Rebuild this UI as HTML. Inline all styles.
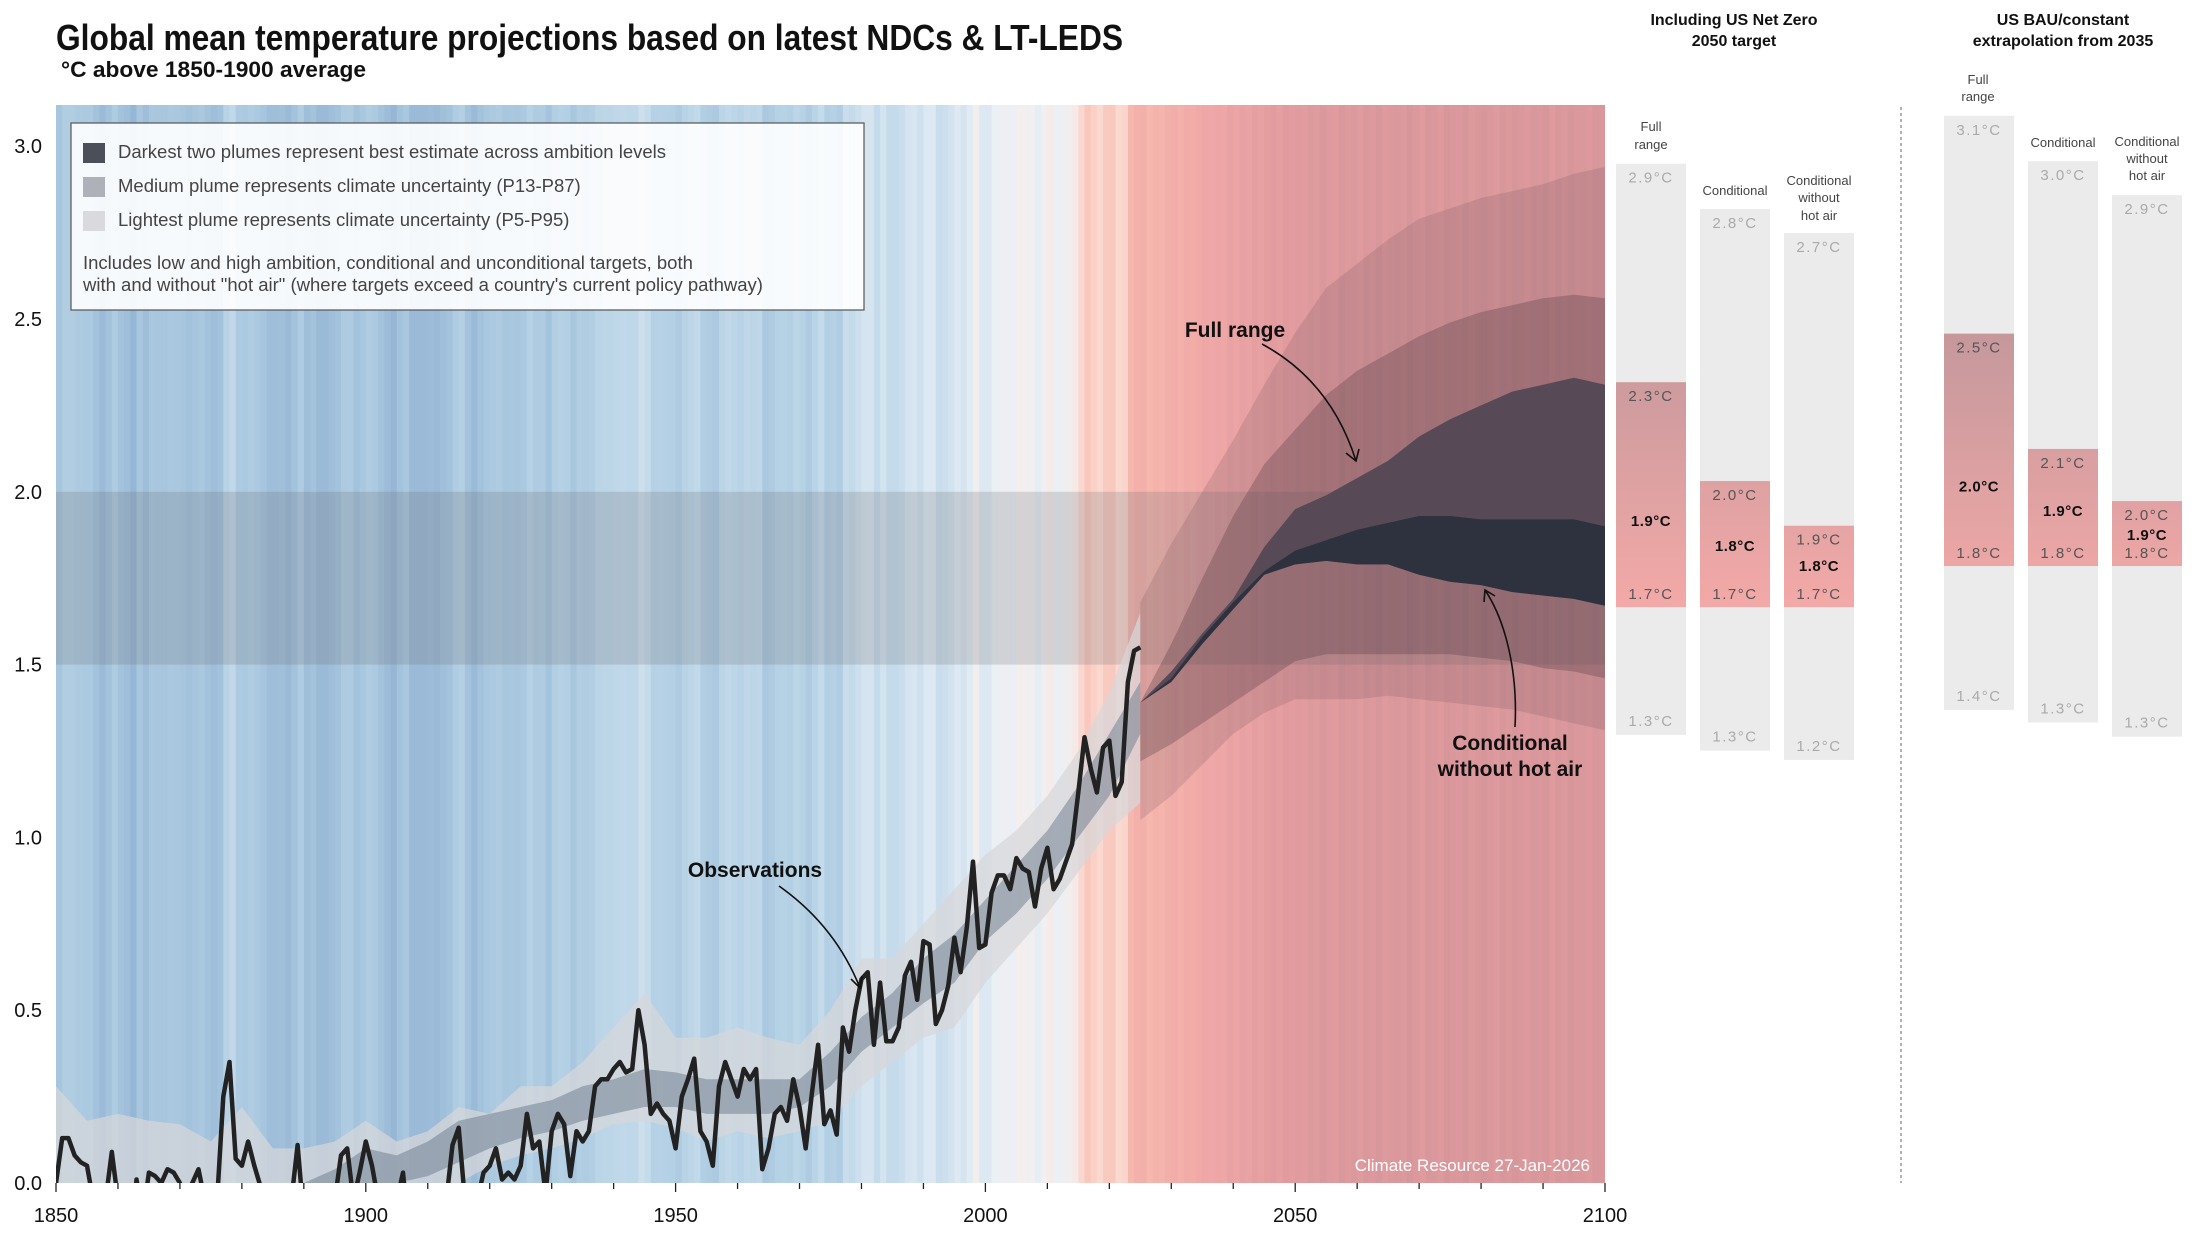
<!DOCTYPE html>
<html><head><meta charset="utf-8">
<style>
html,body{margin:0;padding:0;background:#fff;}
svg{display:block;}
text{font-family:"Liberation Sans",sans-serif;}
.cond{font-family:"Liberation Sans Narrow","Liberation Sans",sans-serif;}
</style></head>
<body>
<svg id="chart" width="2196" height="1233" viewBox="0 0 2196 1233" xmlns="http://www.w3.org/2000/svg">
<defs>
<clipPath id="plotClip"><rect x="56" y="105" width="1549" height="1078"/></clipPath>
</defs>
<rect x="0" y="0" width="2196" height="1233" fill="#fff"/>
<text class="cond" x="56" y="50" font-size="36" font-weight="bold" fill="#111" textLength="1067" lengthAdjust="spacingAndGlyphs">Global mean temperature projections based on latest NDCs &amp; LT-LEDS</text>
<text class="cond" x="61" y="77" font-size="22" font-weight="bold" fill="#111" textLength="305" lengthAdjust="spacingAndGlyphs">°C above 1850-1900 average</text>
<g id="plot" clip-path="url(#plotClip)">
<g id="stripes"></g>
<rect id="band" x="56" y="0" width="1549" height="0" fill="rgba(110,110,115,0.22)"/>
<g id="hist"></g>
<g id="proj"></g>
<path id="obsLine" fill="none" stroke="#222" stroke-width="4.5" stroke-linejoin="round"/>
</g>
<g id="axes"></g>
<g>
<rect x="71" y="123" width="793" height="187" fill="rgba(255,255,255,0.9)" stroke="#555" stroke-width="1.2"/>
<rect x="83" y="143" width="22" height="20" fill="#4b4f5a"/>
<text x="118" y="158" font-size="18.5" fill="#444">Darkest two plumes represent best estimate across ambition levels</text>
<rect x="83" y="177" width="22" height="20" fill="#aeb1b8"/>
<text x="118" y="192" font-size="18.5" fill="#444">Medium plume represents climate uncertainty (P13-P87)</text>
<rect x="83" y="211" width="22" height="20" fill="#d8dadd"/>
<text x="118" y="226" font-size="18.5" fill="#444">Lightest plume represents climate uncertainty (P5-P95)</text>
<text x="83" y="269" font-size="18.5" fill="#444">Includes low and high ambition, conditional and unconditional targets, both</text>
<text x="83" y="291" font-size="18.5" fill="#444">with and without "hot air" (where targets exceed a country's current policy pathway)</text>
</g>
<g>
<text class="cond" x="755" y="877" font-size="21" font-weight="bold" fill="#111" text-anchor="middle">Observations</text>
<path d="M779,886 C820,915 845,950 860,988 M851,979 L860,988 L862,976" fill="none" stroke="#111" stroke-width="1.6"/>
<text class="cond" x="1235" y="337" font-size="21" font-weight="bold" fill="#111" text-anchor="middle">Full range</text>
<path d="M1262,344 C1310,370 1340,410 1356,461 M1346,453 L1356,461 L1359,449" fill="none" stroke="#111" stroke-width="1.6"/>
<text class="cond" x="1510" y="750" font-size="21" font-weight="bold" fill="#111" text-anchor="middle">Conditional</text>
<text class="cond" x="1510" y="776" font-size="21" font-weight="bold" fill="#111" text-anchor="middle">without hot air</text>
<path d="M1515,727 C1518,670 1505,620 1485,590 M1484,602 L1485,590 L1495,596" fill="none" stroke="#111" stroke-width="1.6"/>
<text x="1590" y="1171" font-size="17" fill="#fff" text-anchor="end">Climate Resource 27-Jan-2026</text>
</g>
<g id="panels">
<text x="1734" y="25" font-size="16" font-weight="bold" fill="#111" text-anchor="middle">Including US Net Zero</text>
<text x="1734" y="46" font-size="16" font-weight="bold" fill="#111" text-anchor="middle">2050 target</text>
<text x="2063" y="25" font-size="16" font-weight="bold" fill="#111" text-anchor="middle">US BAU/constant</text>
<text x="2063" y="46" font-size="16" font-weight="bold" fill="#111" text-anchor="middle">extrapolation from 2035</text>
<line x1="1901" y1="107" x2="1901" y2="1183" stroke="#888" stroke-width="1.3" stroke-dasharray="3,3"/>
<g font-size="13" fill="#444" text-anchor="middle">
<text x="1651" y="131">Full</text>
<text x="1651" y="149">range</text>
<text x="1735" y="195">Conditional</text>
<text x="1819" y="185">Conditional</text>
<text x="1819" y="202">without</text>
<text x="1819" y="220">hot air</text>
<text x="1978" y="84">Full</text>
<text x="1978" y="101">range</text>
<text x="2063" y="147">Conditional</text>
<text x="2147" y="146">Conditional</text>
<text x="2147" y="163">without</text>
<text x="2147" y="180">hot air</text>
</g>
<g id="bars"></g>
</g>
</svg>
<script>
// ---------- data ----------
const obsStartYear = 1850;
const obsValues = [
0.0,0.13,0.13,0.08,0.06,0.05,-0.05,-0.15,-0.05,0.09,
-0.05,-0.1,-0.2,0.01,-0.1,0.03,0.02,0.0,0.04,0.03,
0.0,-0.05,0.0,0.04,-0.05,-0.1,-0.05,0.25,0.35,0.07,
0.05,0.12,0.05,-0.01,-0.1,-0.1,-0.08,-0.15,-0.05,0.11,
-0.1,-0.05,-0.15,-0.15,-0.1,-0.05,0.08,0.1,-0.05,0.03,
0.12,0.05,-0.05,-0.12,-0.2,-0.05,0.03,-0.15,-0.15,-0.15,
-0.12,-0.15,-0.08,-0.05,0.11,0.16,-0.05,-0.15,-0.05,0.03,
0.05,0.1,0.01,0.03,0.01,0.05,0.2,0.1,0.12,-0.03,
0.15,0.2,0.17,0.02,0.15,0.12,0.15,0.28,0.3,0.3,
0.33,0.35,0.32,0.33,0.5,0.4,0.2,0.23,0.2,0.18,
0.1,0.25,0.3,0.36,0.15,0.12,0.05,0.28,0.35,0.3,
0.25,0.33,0.3,0.33,0.04,0.1,0.2,0.22,0.18,0.3,
0.22,0.1,0.26,0.4,0.17,0.21,0.14,0.45,0.38,0.5,
0.59,0.61,0.4,0.58,0.41,0.41,0.45,0.6,0.64,0.53,
0.7,0.69,0.46,0.5,0.57,0.71,0.61,0.74,0.93,0.68,
0.69,0.84,0.89,0.89,0.85,0.94,0.91,0.9,0.8,0.91,
0.97,0.85,0.88,0.93,0.98,1.13,1.29,1.2,1.13,1.26,
1.28,1.12,1.16,1.45,1.54,1.55];

const futureStripeValues = [
1.45,1.5,1.48,1.55,1.6,1.52,1.62,1.58,1.65,1.7,
1.66,1.72,1.7,1.78,1.74,1.8,1.76,1.84,1.8,1.86,
1.9,1.85,1.92,1.88,1.95,1.9,1.98,1.93,2.02,1.96,
1.92,2.05,1.97,2.0,1.94,2.03,1.99,2.08,1.96,2.01,
2.04,1.98,2.1,2.0,1.95,2.06,2.02,1.97,2.09,2.03,
2.0,2.12,1.98,2.05,2.15,2.02,1.96,2.07,2.01,2.1,
2.04,1.99,2.08,2.03,2.13,1.97,2.06,2.0,2.1,2.02,
2.05,1.99,2.08,2.03,2.0];

const histYears = [1850,1855,1860,1865,1870,1875,1880,1885,1890,1895,1900,1905,1910,1915,1920,1925,1930,1935,1940,1945,1950,1955,1960,1965,1970,1975,1980,1985,1990,1995,2000,2005,2010,2015,2020,2025];
const histLightHi = [0.28,0.18,0.2,0.18,0.17,0.12,0.22,0.1,0.1,0.12,0.18,0.12,0.15,0.22,0.2,0.28,0.28,0.35,0.45,0.55,0.42,0.42,0.45,0.42,0.4,0.5,0.65,0.65,0.75,0.85,0.95,1.02,1.12,1.25,1.42,1.65];
const histLightLo = [-0.1,-0.1,-0.1,-0.1,-0.1,-0.1,-0.1,-0.1,-0.1,-0.1,-0.1,-0.1,-0.1,0.0,0.05,0.08,0.1,0.13,0.17,0.18,0.16,0.12,0.15,0.13,0.15,0.18,0.28,0.35,0.42,0.45,0.58,0.68,0.78,0.9,1.02,1.1];
const histMedHi = [-0.2,-0.2,-0.2,-0.2,-0.2,-0.2,-0.2,-0.2,0.0,0.04,0.1,0.08,0.12,0.18,0.2,0.22,0.24,0.28,0.3,0.33,0.32,0.3,0.3,0.3,0.3,0.38,0.48,0.55,0.65,0.72,0.82,0.92,1.02,1.15,1.3,1.45];
const histMedLo = [-0.3,-0.3,-0.3,-0.3,-0.3,-0.3,-0.3,-0.3,-0.1,-0.05,0.0,0.0,0.02,0.06,0.1,0.13,0.15,0.18,0.2,0.22,0.22,0.2,0.2,0.2,0.22,0.28,0.38,0.45,0.52,0.58,0.7,0.78,0.88,1.0,1.12,1.3];

const projYears = [2025,2030,2035,2040,2045,2050,2055,2060,2065,2070,2075,2080,2085,2090,2095,2100];
const projOuterTop = [1.68,1.85,2.00,2.15,2.31,2.46,2.59,2.66,2.73,2.79,2.82,2.85,2.87,2.89,2.92,2.94];
const projMedTop = [1.39,1.56,1.75,1.93,2.08,2.18,2.28,2.35,2.40,2.45,2.49,2.52,2.54,2.56,2.57,2.56];
const projDarkTop = [1.39,1.48,1.59,1.69,1.84,1.95,1.99,2.04,2.09,2.16,2.21,2.25,2.29,2.31,2.33,2.31];
const projDarkestTop = [1.39,1.46,1.58,1.68,1.77,1.83,1.86,1.89,1.91,1.93,1.93,1.92,1.92,1.92,1.92,1.90];
const projDarkBottom = [1.39,1.45,1.56,1.66,1.76,1.79,1.80,1.79,1.79,1.76,1.74,1.73,1.71,1.70,1.69,1.67];
const projMedBottom = [1.22,1.27,1.33,1.39,1.45,1.51,1.53,1.53,1.53,1.53,1.53,1.52,1.51,1.49,1.48,1.46];
const projOuterBottom = [1.05,1.12,1.21,1.30,1.36,1.40,1.40,1.40,1.41,1.40,1.39,1.38,1.37,1.35,1.33,1.31];

const xTickYears = [1850,1900,1950,2000,2050,2100];
const yTickValues = [0.0,0.5,1.0,1.5,2.0,2.5,3.0];
const yTickLabels = ["0.0","0.5","1.0","1.5","2.0","2.5","3.0"];
const parisBand = [1.5,2.0];

const barNames = ["netzero-full","netzero-cond","netzero-cwha","bau-full","bau-cond","bau-cwha"];
const barTop = [2.90,2.773,2.706,3.034,2.907,2.812];
const barInnerTop = [2.288,2.011,1.886,2.424,2.101,1.955];
const barInnerBottom = [1.658,1.658,1.658,1.773,1.773,1.773];
const barBottom = [1.30,1.256,1.230,1.370,1.335,1.295];
const barMedian = [1.902,1.832,1.776,1.999,1.930,1.863];
const labelTop = ["2.9°C","2.8°C","2.7°C","3.1°C","3.0°C","2.9°C"];
const labelInnerTop = ["2.3°C","2.0°C","1.9°C","2.5°C","2.1°C","2.0°C"];
const labelMedian = ["1.9°C","1.8°C","1.8°C","2.0°C","1.9°C","1.9°C"];
const labelInnerBottom = ["1.7°C","1.7°C","1.7°C","1.8°C","1.8°C","1.8°C"];
const labelBottom = ["1.3°C","1.3°C","1.2°C","1.4°C","1.3°C","1.3°C"];

// ---------- layout ----------
const NS = "http://www.w3.org/2000/svg";
const X0 = 56, X1 = 1605, Y0 = 1183, PX_PER_DEG = 345.6;
const xScale = yr => X0 + (yr - 1850) * (X1 - X0) / 250;
const yScale = v => Y0 - v * PX_PER_DEG;
const panelY = v => 1199 - v * 357;
const barLeft = [1616,1700,1784,1944,2028,2112];
const BAR_W = 70;

function mk(tag, attrs, parent) {
  const el = document.createElementNS(NS, tag);
  for (const k in attrs) el.setAttribute(k, attrs[k]);
  parent.appendChild(el);
  return el;
}
function hex2rgb(h){return [parseInt(h.slice(1,3),16),parseInt(h.slice(3,5),16),parseInt(h.slice(5,7),16)];}
function lerpColor(a,b,t){const A=hex2rgb(a),B=hex2rgb(b);return "rgb("+A.map((c,i)=>Math.round(c+(B[i]-c)*t)).join(",")+")";}
const stripeStops = [[-0.2,"#96b6d5"],[0.0,"#a7c6de"],[0.3,"#bcd6e8"],[0.6,"#d5e4f0"],[0.85,"#eaf0f6"],[0.95,"#f5eeec"],[1.1,"#fadbd2"],[1.3,"#f9c6bc"],[1.5,"#f5b2ab"],[1.7,"#eea6a6"],[1.9,"#e29c9f"],[2.1,"#d6969a"]];
function stripeColor(v){
  if (v <= stripeStops[0][0]) return stripeStops[0][1];
  for (let i=1;i<stripeStops.length;i++){
    if (v <= stripeStops[i][0]) {
      const t=(v-stripeStops[i-1][0])/(stripeStops[i][0]-stripeStops[i-1][0]);
      return lerpColor(stripeStops[i-1][1],stripeStops[i][1],t);
    }
  }
  return stripeStops[stripeStops.length-1][1];
}

// stripes
const stripesG = document.getElementById("stripes");
const stripeVals = obsValues.concat(futureStripeValues);
stripeVals.forEach((v,i)=>{
  const yr = obsStartYear + i;
  const r = mk("rect",{x:xScale(yr).toFixed(2),y:105,width:(xScale(yr+1)-xScale(yr)+0.6).toFixed(2),height:1078,fill:stripeColor(v)},stripesG);
  
  
});

// paris band
const band = document.getElementById("band");
band.setAttribute("y", yScale(parisBand[1]));
band.setAttribute("height", yScale(parisBand[0]) - yScale(parisBand[1]));

function areaPath(xs, lo, hi){
  let d = "M" + xs.map((yr,i)=>xScale(yr).toFixed(1)+","+yScale(hi[i]).toFixed(1)).join(" L");
  for (let i=xs.length-1;i>=0;i--) d += " L"+xScale(xs[i]).toFixed(1)+","+yScale(lo[i]).toFixed(1);
  return d+" Z";
}
const histG = document.getElementById("hist");
const hl = mk("path",{d:areaPath(histYears,histLightLo,histLightHi),fill:"rgba(215,215,218,0.72)"},histG);


const hm = mk("path",{d:areaPath(histYears,histMedLo,histMedHi),fill:"rgba(105,122,140,0.5)"},histG);



const projG = document.getElementById("proj");
const p1 = mk("path",{d:areaPath(projYears,projOuterBottom,projOuterTop),fill:"rgba(110,80,90,0.2)"},projG);


const p2 = mk("path",{d:areaPath(projYears,projMedBottom,projMedTop),fill:"rgba(80,55,65,0.3)"},projG);


const p3 = mk("path",{d:areaPath(projYears,projDarkBottom,projDarkTop),fill:"#574a56"},projG);


const p4 = mk("path",{d:areaPath(projYears,projDarkBottom,projDarkestTop),fill:"#2e313e"},projG);



// observations
document.getElementById("obsLine").setAttribute("d",
  "M" + obsValues.map((v,i)=>xScale(obsStartYear+i).toFixed(1)+","+yScale(v).toFixed(1)).join(" L"));

// axes
const axesG = document.getElementById("axes");
for (let yr=1850; yr<=2100; yr+=10){
  const major = xTickYears.includes(yr);
  const t = mk("line",{x1:xScale(yr),x2:xScale(yr),y1:Y0,y2:Y0+(major?9:6),stroke:"#222","stroke-width":1.3},axesG);
  
  
}
xTickYears.forEach(yr=>{
  const t = mk("text",{x:xScale(yr),y:1222,"font-size":20,"text-anchor":"middle",fill:"#111"},axesG);
  t.textContent = String(yr);
  
  
});
yTickValues.forEach((v,i)=>{
  const t = mk("text",{x:42,y:yScale(v)+7,"font-size":20,"text-anchor":"end",fill:"#111"},axesG);
  t.textContent = yTickLabels[i];
  
  
});

// side bars
const barsG = document.getElementById("bars");
const defs = document.querySelector("defs");
const pinkColor = v => lerpColor("#f3a9a7","#c1969b",Math.max(0,Math.min(1,(v-1.65)/(2.5-1.65))));
barNames.forEach((nm,i)=>{
  const x = barLeft[i], cx = x + BAR_W/2;
  const g = mk("g",{},barsG);
  
  
  const bg = mk("rect",{x:x,y:panelY(barTop[i]),width:BAR_W,height:panelY(barBottom[i])-panelY(barTop[i]),fill:"#ebebeb"},g);
  
  
  const gid = "grad"+i;
  const lg = mk("linearGradient",{id:gid,x1:0,y1:0,x2:0,y2:1},defs);
  mk("stop",{offset:"0","stop-color":pinkColor(barInnerTop[i])},lg);
  mk("stop",{offset:"1","stop-color":pinkColor(barInnerBottom[i])},lg);
  const inner = mk("rect",{x:x,y:panelY(barInnerTop[i]),width:BAR_W,height:panelY(barInnerBottom[i])-panelY(barInnerTop[i]),fill:"url(#"+gid+")"},g);
  
  
  const labs = [
    [labelTop[i], panelY(barTop[i])+13, "#aaa", "normal", "top"],
    [labelInnerTop[i], panelY(barInnerTop[i])+13, "#555", "normal", "inner-top"],
    [labelMedian[i], panelY(barMedian[i]), "#111", "bold", "median"],
    [labelInnerBottom[i], panelY(barInnerBottom[i])-14, "#555", "normal", "inner-bottom"],
    [labelBottom[i], panelY(barBottom[i])-15, "#aaa", "normal", "bottom"]
  ];
  labs.forEach(l=>{
    const t = mk("text",{x:cx,y:l[1]+6,"font-size":15,"letter-spacing":l[3]==="bold"?0.5:1.5,"font-weight":l[3],fill:l[2],"text-anchor":"middle"},g);
    t.textContent = l[0];
    
    
  });
});
</script>
</body></html>
